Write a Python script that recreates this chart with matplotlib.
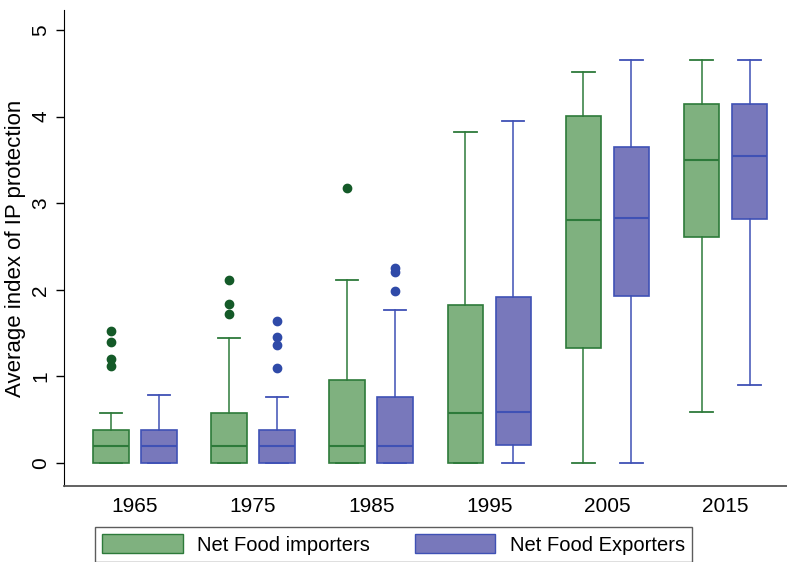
import numpy as np
import matplotlib.pyplot as plt
from matplotlib.patches import Patch

plt.rcParams['font.family'] = ['Liberation Sans', 'DejaVu Sans']

# <------------------------------ Datos ------------------------------------>
years = ['1965', '1975', '1985', '1995', '2005', '2015']

# Net Food importers
imp_q1 = [0.0, 0.0, 0.0, 0.0, 1.33, 2.61]
imp_med = [0.2, 0.2, 0.2, 0.58, 2.81, 3.50]
imp_q3 = [0.38, 0.58, 0.96, 1.82, 4.01, 4.15]
imp_lo = [0.0, 0.0, 0.0, 0.0, 0.0, 0.59]
imp_hi = [0.58, 1.44, 2.11, 3.82, 4.51, 4.65]
imp_out = [[1.52, 1.40, 1.20, 1.12], [2.11, 1.84, 1.72], [3.18], [], [], []]

# Net Food Exporters
exp_q1 = [0.0, 0.0, 0.0, 0.21, 1.93, 2.82]
exp_med = [0.2, 0.2, 0.2, 0.59, 2.83, 3.55]
exp_q3 = [0.38, 0.38, 0.76, 1.92, 3.65, 4.15]
exp_lo = [0.0, 0.0, 0.0, 0.0, 0.0, 0.90]
exp_hi = [0.79, 0.76, 1.77, 3.95, 4.65, 4.65]
exp_out = [[], [1.64, 1.46, 1.36, 1.10], [2.25, 2.20, 1.98], [], [], []]

# colores
g_fill, g_edge, g_dot = '#7fb17f', '#2d7a3a', '#145a28'
b_fill, b_edge, b_dot = '#7878bb', '#3f51b5', '#2f4aa8'


def armar_stats(q1, med, q3, lo, hi, out):
    return [dict(q1=a, med=m, q3=c, whislo=l, whishi=h, fliers=f)
            for a, m, c, l, h, f in zip(q1, med, q3, lo, hi, out)]


def dibujar(ax, stats, pos, fill, edge, dot):
    ax.bxp(stats, positions=pos, widths=0.30, capwidths=0.19,
           patch_artist=True, showfliers=True,
           boxprops=dict(facecolor=fill, edgecolor=edge, linewidth=1.2),
           medianprops=dict(color=edge, linewidth=1.5),
           whiskerprops=dict(color=edge, linewidth=1.1),
           capprops=dict(color=edge, linewidth=1.3),
           flierprops=dict(marker='o', markerfacecolor=dot,
                           markeredgecolor=dot, markersize=6))


fig = plt.figure(figsize=(7.87, 5.62), dpi=100)
ax = fig.add_axes([0.0813, 0.1352, 0.9187, 0.847])

x = np.arange(1, len(years) + 1)
dibujar(ax, armar_stats(imp_q1, imp_med, imp_q3, imp_lo, imp_hi, imp_out),
        x - 0.203, g_fill, g_edge, g_dot)
dibujar(ax, armar_stats(exp_q1, exp_med, exp_q3, exp_lo, exp_hi, exp_out),
        x + 0.203, b_fill, b_edge, b_dot)

ax.set_xlim(0.4, 6.52)
ax.set_ylim(-0.266, 5.23)
ax.set_xticks(x)
ax.set_xticklabels(years, fontsize=15)
ax.tick_params(axis='x', length=0, pad=8)
ax.set_yticks(range(6))
ax.set_yticklabels([str(i) for i in range(6)], fontsize=15,
                   rotation=90, va='center')
ax.tick_params(axis='y', length=6, width=1, pad=4)
ax.set_ylabel('Average index of IP protection', fontsize=16, labelpad=4)

for s in ['top', 'right']:
    ax.spines[s].set_visible(False)
ax.spines['left'].set_color('black')
ax.spines['bottom'].set_color('#555555')
ax.spines['bottom'].set_linewidth(1.3)

handles = [Patch(facecolor=g_fill, edgecolor=g_edge, label='Net Food importers'),
           Patch(facecolor=b_fill, edgecolor=b_edge, label='Net Food Exporters')]
leg = fig.legend(handles=handles, loc='upper left',
                 bbox_to_anchor=(0.1207, 0.0623), ncol=2, fontsize=14.5,
                 frameon=True, fancybox=False, borderaxespad=0,
                 handlelength=4.0, handleheight=1.1, handletextpad=0.7,
                 columnspacing=2.25, borderpad=0.35)
leg.get_frame().set_edgecolor('#333333')
leg.get_frame().set_linewidth(1.0)

fig.savefig('out.png', dpi=100)
